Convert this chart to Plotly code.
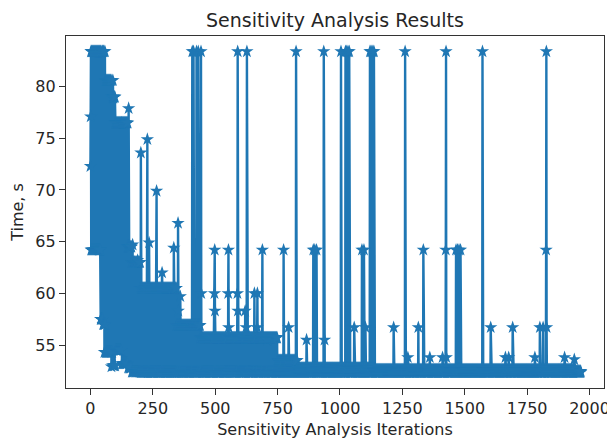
import plotly.graph_objects as go

# ---- data ----
N_POINTS = 1966          # iterations 0 .. 1965

# dense bands: the series zig-zags between a low and a high value in each range
band_start = [0,    40,   50,   60,   88,   100,  125,  150,  165,  200,  345,  440,  750,  830,   1135,  1945]
band_end   = [40,   50,   60,   88,   100,  125,  150,  165,  200,  345,  440,  750,  830,  1135,  1945,  1966]
band_high  = [83.4, 83.4, 83.4, 80.6, 79.0, 76.5, 76.5, 64.5, 63.0, 60.5, 56.9, 55.7, 53.5, 52.75, 52.6,  52.45]
band_low   = [64.2, 57.5, 57.0, 54.3, 53.0, 54.5, 53.2, 52.8, 52.4, 52.35, 52.35, 52.35, 52.35, 52.35, 52.35, 52.35]

# individual spikes / single points (iteration, time)
spike_iter = [0, 1, 44, 56, 84, 90, 91, 153, 169, 176, 189, 202, 228, 235, 265, 287, 334, 351, 352, 360,
              408, 413, 425, 432, 443, 444,
              497, 498, 499, 552, 553, 554, 589, 590, 591, 620, 624, 627,
              657, 668, 669, 689, 709, 735, 774, 794, 824, 866, 893, 899, 906, 935, 938,
              1004, 1022, 1027, 1032, 1037, 1057, 1088, 1096, 1102,
              1120, 1124, 1128, 1132, 1136,
              1215, 1261, 1272, 1314, 1334, 1360, 1411, 1424, 1425, 1426,
              1465, 1471, 1477, 1483, 1571, 1604, 1663, 1676, 1692, 1781, 1801, 1814,
              1826, 1827, 1828, 1900, 1939]
spike_time = [72.3, 77.1, 57.5, 54.3, 52.9, 80.6, 78.9, 77.9, 64.7, 63.0, 63.2, 73.6, 74.9, 64.9, 69.9, 62.0, 64.4, 66.8, 58.3, 59.7,
              83.4, 83.4, 83.4, 83.4, 83.4, 60.0,
              60.0, 64.2, 58.3, 60.0, 64.2, 56.7, 60.0, 83.4, 58.3, 58.3, 56.7, 83.4,
              60.0, 56.7, 60.0, 64.2, 55.5, 55.5, 64.2, 56.7, 83.4, 55.5, 64.2, 64.2, 64.2, 83.4, 55.5,
              83.4, 83.4, 83.4, 83.4, 83.4, 56.7, 64.2, 64.2, 56.7,
              83.4, 83.4, 83.4, 83.4, 83.4,
              56.7, 83.4, 53.8, 56.7, 64.2, 53.8, 53.8, 64.2, 83.4, 53.8,
              64.2, 64.2, 64.2, 64.2, 83.4, 56.7, 53.8, 53.8, 56.7, 53.8, 56.7, 56.7,
              64.2, 83.4, 56.7, 53.8, 53.6]

x_ticks = [0, 250, 500, 750, 1000, 1250, 1500, 1750, 2000]
y_ticks = [55, 60, 65, 70, 75, 80]
TITLE = "Sensitivity Analysis Results"

# ---- build the series from the bands and spikes ----
iterations = list(range(N_POINTS))
times = [band_low[-1]] * N_POINTS
for s, e, hi, lo in zip(band_start, band_end, band_high, band_low):
    for i in range(s, e):
        times[i] = hi if (i - s) % 2 == 0 else lo
for i, t in zip(spike_iter, spike_time):
    times[i] = t

BLUE = "#1f77b4"
FONT = "DejaVu Sans"
INK = "#262626"

# page is shown with an 8 px body margin, so figure = page - 8
W, H = 607, 435
L, R, T, B = 58, 5, 28, 55
PLOT_H = H - T - B

fig = go.Figure(go.Scatter(
    x=iterations, y=times, mode="lines+markers",
    line=dict(color=BLUE, width=2.4),
    marker=dict(symbol="star", size=10, color=BLUE, line=dict(width=0)),
    hoverinfo="skip",
))

fig.update_layout(
    width=W, height=H,
    margin=dict(l=L, r=R, t=T, b=B),
    paper_bgcolor="white", plot_bgcolor="white",
    showlegend=False,
    font=dict(family=FONT, color=INK, size=16),
    annotations=[dict(text=TITLE, xref="paper", x=0.5, xanchor="center",
                      yref="paper", y=1 + 16 / PLOT_H, yanchor="middle", showarrow=False,
                      font=dict(family=FONT, size=19, color=INK))],
)
fig.update_xaxes(
    range=[-98, 2058], tickmode="array", tickvals=x_ticks, ticktext=[str(v) for v in x_ticks],
    showgrid=False, zeroline=False, showline=True, linecolor="#333333", linewidth=1.2, mirror=True,
    ticks="outside", ticklen=6, tickcolor="#333333", tickfont=dict(size=16),
    ticklabeloverflow="allow",
    title=dict(text="Sensitivity Analysis Iterations", font=dict(size=16), standoff=6),
)
fig.update_yaxes(
    range=[50.84, 84.9], tickmode="array", tickvals=y_ticks, ticktext=[str(v) for v in y_ticks],
    showgrid=False, zeroline=False, showline=True, linecolor="#333333", linewidth=1.2, mirror=True,
    ticks="outside", ticklen=6, tickcolor="#333333", tickfont=dict(size=16),
    title=dict(text="Time, s", font=dict(size=16), standoff=8),
)

fig.write_html("out.html")
